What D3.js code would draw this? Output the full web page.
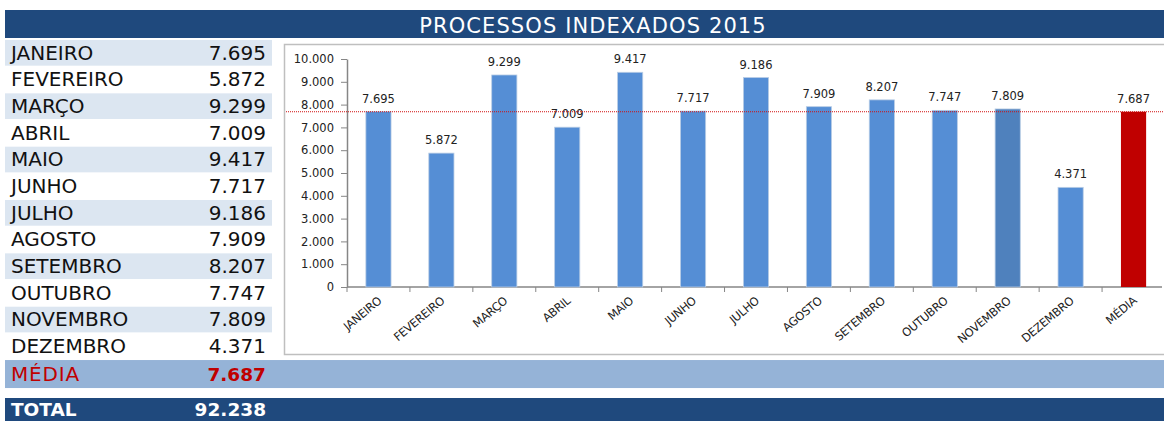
<!DOCTYPE html>
<html>
<head>
<meta charset="utf-8">
<script src="https://cdn.jsdelivr.net/npm/d3@7"></script>
<style>
  body { margin: 0; background: #fff; }
  svg text { font-family: "DejaVu Sans", Verdana, sans-serif; }
</style>
</head>
<body>
<svg id="chart" width="1164" height="421"></svg>
<script>
const title = "PROCESSOS INDEXADOS 2015";
const months = ["JANEIRO", "FEVEREIRO", "MARÇO", "ABRIL", "MAIO", "JUNHO", "JULHO",
  "AGOSTO", "SETEMBRO", "OUTUBRO", "NOVEMBRO", "DEZEMBRO"];
const values = [7695, 5872, 9299, 7009, 9417, 7717, 9186, 7909, 8207, 7747, 7809, 4371];
const mediaLabel = "MÉDIA";
const mediaValue = 7687;
const totalLabel = "TOTAL";
const totalValue = 92238;
const yTicks = [0, 1000, 2000, 3000, 4000, 5000, 6000, 7000, 8000, 9000, 10000];

const fmt = (v) => d3.format(",")(v).replace(/,/g, ".");

const svg = d3.select("#chart");
const darkBlue = "#1F497D";

// title band
svg.append("rect").attr("x", 5).attr("y", 10).attr("width", 1159).attr("height", 28).attr("fill", darkBlue);
svg.append("text").attr("x", 593).attr("y", 33).attr("text-anchor", "middle")
  .attr("fill", "#fff").style("font-size", "21px").style("letter-spacing", "1.1px").text(title);

// left table
const rowH = 26.67, tableTop = 40;
const rows = svg.append("g");
months.forEach((m, i) => {
  const y = tableTop + i * rowH;
  if (i % 2 === 0) {
    rows.append("rect").attr("x", 5).attr("y", y).attr("width", 267).attr("height", rowH - 1).attr("fill", "#DCE6F1");
  }
  rows.append("text").attr("x", 11).attr("y", y + 19.5).style("font-size", "20px").attr("fill", "#111").text(m);
  rows.append("text").attr("x", 266).attr("y", y + 19.5).attr("text-anchor", "end").style("font-size", "20px")
    .attr("fill", "#111").text(fmt(values[i]));
});

// média row
const mediaY = tableTop + 12 * rowH;
svg.append("rect").attr("x", 5).attr("y", mediaY).attr("width", 1159).attr("height", 28).attr("fill", "#95B3D7");
svg.append("text").attr("x", 11).attr("y", mediaY + 21).style("font-size", "20px").style("letter-spacing", "0.8px")
  .attr("fill", "#C00000").text(mediaLabel);
svg.append("text").attr("x", 266).attr("y", mediaY + 21).attr("text-anchor", "end").style("font-size", "18.5px")
  .style("font-weight", "bold").attr("fill", "#C00000").text(fmt(mediaValue));

// total row
svg.append("rect").attr("x", 5).attr("y", 398).attr("width", 1159).attr("height", 23).attr("fill", darkBlue);
svg.append("text").attr("x", 11).attr("y", 416).style("font-size", "18.5px").style("font-weight", "bold").attr("fill", "#fff").text(totalLabel);
svg.append("text").attr("x", 266).attr("y", 416).attr("text-anchor", "end").style("font-size", "18.5px")
  .style("font-weight", "bold").attr("fill", "#fff").text(fmt(totalValue));

// chart box
svg.append("rect").attr("x", 284.5).attr("y", 44.5).attr("width", 885).attr("height", 310)
  .attr("fill", "#fff").attr("stroke", "#bfbfbf").attr("stroke-width", 1.5);

const cats = months.concat([mediaLabel]);
const vals = values.concat([mediaValue]);

const x = d3.scaleBand().domain(cats).range([347, 1165]).paddingInner(0.6).paddingOuter(0.3);
const y = d3.scaleLinear().domain([0, 10000]).range([287, 59]);

const plot = svg.append("g");

const yAxis = plot.append("g").attr("transform", "translate(347,0)")
  .call(d3.axisLeft(y).tickValues(yTicks).tickFormat(fmt).tickSize(6).tickSizeOuter(0));
yAxis.select(".domain").attr("stroke", "#868686").attr("stroke-width", 1.5);
yAxis.selectAll(".tick line").attr("stroke", "#868686");
yAxis.selectAll("text").style("font-size", "11.5px").style("font-family", "'DejaVu Sans', sans-serif")
  .attr("fill", "#222").attr("dx", "-4px");

// x axis with ticks between the bands
const xAxisG = plot.append("g").attr("transform", "translate(0,287)");
xAxisG.append("line").attr("x1", 347).attr("x2", 1162).attr("y1", 0).attr("y2", 0).attr("stroke", "#868686").attr("stroke-width", 1.5);
const step = x.step();
cats.forEach((c) => {
  const e = x(c) + x.bandwidth() / 2 - step / 2;
  xAxisG.append("line").attr("x1", e).attr("x2", e).attr("y1", 0).attr("y2", 5).attr("stroke", "#868686");
});
xAxisG.selectAll(".xl").data(cats).enter().append("text").attr("class", "xl")
  .attr("transform", (d) => `translate(${x(d) + x.bandwidth() / 2 + 4},${15}) rotate(-40)`)
  .attr("text-anchor", "end").style("font-size", "11.5px").style("letter-spacing", "-0.3px")
  .attr("fill", "#222").text((d) => d);

// bars
plot.selectAll(".bar").data(cats).enter().append("rect").attr("class", "bar")
  .attr("x", (d) => x(d)).attr("width", x.bandwidth())
  .attr("y", (d, i) => y(vals[i])).attr("height", (d, i) => 287 - y(vals[i]))
  .attr("fill", (d) => d === mediaLabel ? "#C00000" : d === "NOVEMBRO" ? "#4F81BD" : "#558ED5")
  .attr("stroke", (d) => d === mediaLabel ? "none" : "#B9CDE5").attr("stroke-width", 0.8);

// value labels
plot.selectAll(".vl").data(cats).enter().append("text").attr("class", "vl")
  .attr("x", (d) => x(d) + x.bandwidth() / 2).attr("y", (d, i) => y(vals[i]) - 9)
  .attr("text-anchor", "middle").style("font-size", "11.5px").attr("fill", "#222")
  .text((d, i) => fmt(vals[i]));

// average line
plot.append("line").attr("x1", 286).attr("x2", 1164).attr("y1", y(mediaValue)).attr("y2", y(mediaValue))
  .attr("stroke", "#D01010").attr("stroke-width", 1).attr("stroke-dasharray", "1,1");
</script>
</body>
</html>
